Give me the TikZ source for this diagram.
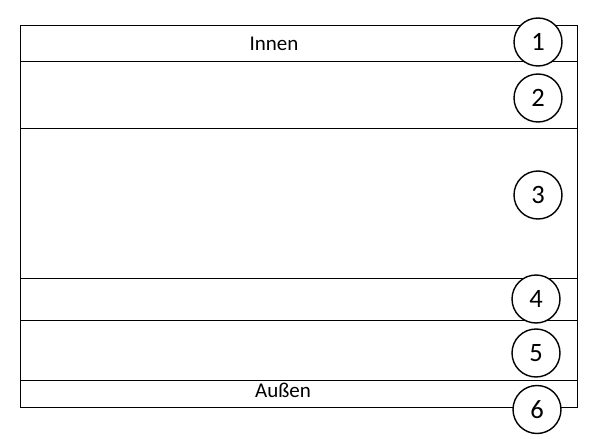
\documentclass[tikz,border=0pt]{standalone}
\usepackage{fontspec}
\setmainfont{Carlito}
\begin{document}
\begin{tikzpicture}[x=1pt,y=-1pt,
  layer/.style={draw=black,line width=1pt},
  num/.style={circle,draw=black,fill=white,line width=1.4pt,minimum size=48pt,inner sep=0pt,font=\fontsize{26.5}{28}\selectfont},
  lbl/.style={inner sep=0pt,anchor=base,font=\fontsize{21}{24}\selectfont}]
\useasboundingbox (0,0) rectangle (598,439);
\draw[layer] (20,25) rectangle (577,407);
\coordinate (l1) at (20,61.5); \coordinate (r1) at (577,61.5);
\coordinate (l2) at (20,128); \coordinate (r2) at (577,128);
\coordinate (l3) at (20,278); \coordinate (r3) at (577,278);
\coordinate (l4) at (20,320); \coordinate (r4) at (577,320);
\coordinate (l5) at (20,380); \coordinate (r5) at (577,380);
\draw[layer] (l1) -- (r1);
\draw[layer] (l2) -- (r2);
\draw[layer] (l3) -- (r3);
\draw[layer] (l4) -- (r4);
\draw[layer] (l5) -- (r5);
\node[lbl] (innen) at (274,50) {Innen};
\node[lbl] (aussen) at (283,397) {Außen};
\node[num] (c1) at (538,42) {1};
\node[num] (c2) at (538,98) {2};
\node[num] (c3) at (538,195) {3};
\node[num] (c4) at (536,299) {4};
\node[num] (c5) at (536,353) {5};
\node[num] (c6) at (537,409.5) {6};
\end{tikzpicture}
\end{document}
